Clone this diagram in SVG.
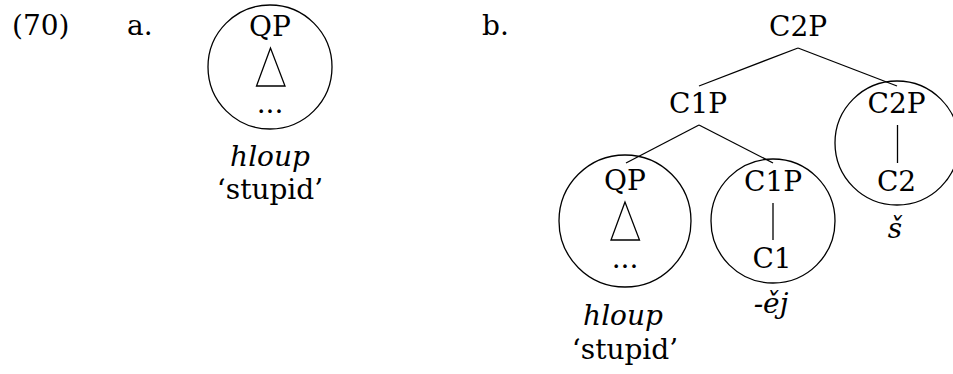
<svg xmlns="http://www.w3.org/2000/svg" width="953" height="374" viewBox="0 0 953 374">
<style>
text{font-family:"DejaVu Serif","Liberation Serif",serif;font-size:28px;fill:#000}
.m{text-anchor:middle}
.i{font-style:italic}
.ln{stroke:#000;stroke-width:1.3;fill:none}
circle,polygon{stroke:#000;stroke-width:1.3;fill:none}
</style>
<rect width="953" height="374" fill="#fff"/>
<g id="labels">
<text x="12" y="35">(70)</text>
<text x="127" y="35">a.</text>
<text x="482" y="35">b.</text>
</g>
<g id="a-QP">
<circle cx="270" cy="67" r="62"/>
<text class="m" x="270" y="36">QP</text>
<polygon points="270.5,48 256.5,86 285,86"/>
<text class="m" x="270" y="113">...</text>
<text class="m i" x="270" y="166">hloup</text>
<text class="m" x="270" y="199">‘stupid’</text>
</g>
<g id="connectors">
<line class="ln" x1="798" y1="48" x2="699" y2="86"/>
<line class="ln" x1="798" y1="48" x2="897" y2="86"/>
<line class="ln" x1="699" y1="125" x2="626" y2="163"/>
<line class="ln" x1="699" y1="125" x2="773" y2="163"/>
<line class="ln" x1="897.5" y1="125" x2="897.5" y2="163"/>
<line class="ln" x1="773" y1="203" x2="773" y2="240"/>
</g>
<g id="b-C2P-root">
<text class="m" x="798" y="36">C2P</text>
</g>
<g id="b-C1P">
<text class="m" x="698" y="113">C1P</text>
</g>
<g id="b-C2P">
<circle cx="897" cy="143" r="62"/>
<text class="m" x="896.5" y="113">C2P</text>
<text class="m" x="896.5" y="191">C2</text>
<text class="m i" x="895" y="238">š</text>
</g>
<g id="b-QP">
<circle cx="625" cy="221" r="66"/>
<text class="m" x="625" y="190">QP</text>
<polygon points="625,202 611,240 639.5,240"/>
<text class="m" x="625" y="268">...</text>
<text class="m i" x="623" y="325">hloup</text>
<text class="m" x="625" y="359">‘stupid’</text>
</g>
<g id="b-C1P-small">
<circle cx="773" cy="221" r="62"/>
<text class="m" x="773" y="191">C1P</text>
<text class="m" x="772" y="268">C1</text>
<text class="m i" x="771" y="313">-ěj</text>
</g>
</svg>
